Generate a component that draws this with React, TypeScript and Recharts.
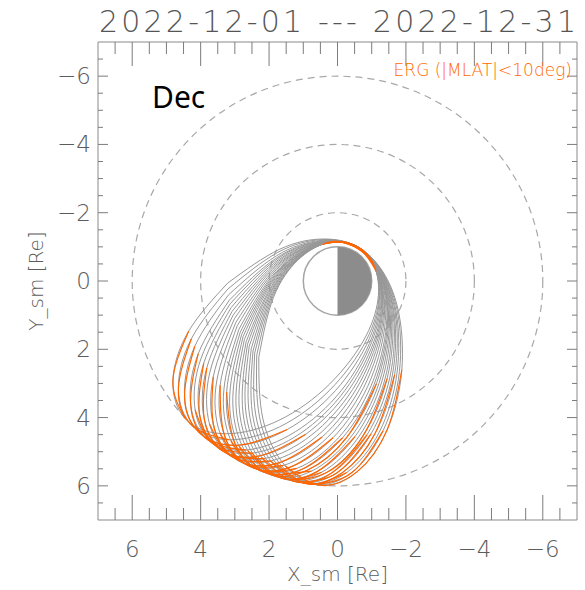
import { LineChart, Line, XAxis, YAxis, ReferenceArea } from "recharts";

// ERG orbit traces in the SM equatorial plane: [X_sm, Y_sm] in Re.
// Each trace starts on the left flank and runs round through apogee and perigee.
const orbit050 = [[2.30, 2.23], [2.18, 4.04], [1.53, 5.41], [0.52, 5.98], [-0.57, 5.59], [-1.45, 4.36], [-1.88, 2.60], [-1.76, 0.79], [-1.24, -0.40], [-0.63, -0.98], [-0.10, -1.15], [0.45, -1.07], [1.16, -0.61], [1.87, 0.48]];
const orbit065 = [[2.36, 2.17], [2.28, 3.98], [1.67, 5.37], [0.68, 5.96], [-0.42, 5.61], [-1.33, 4.39], [-1.81, 2.65], [-1.74, 0.84], [-1.25, -0.36], [-0.66, -0.96], [-0.13, -1.14], [0.43, -1.08], [1.14, -0.64], [1.88, 0.43]];
const orbit080 = [[2.42, 2.11], [2.39, 3.92], [1.81, 5.32], [0.84, 5.94], [-0.27, 5.61], [-1.22, 4.43], [-1.74, 2.69], [-1.71, 0.88], [-1.26, -0.33], [-0.68, -0.94], [-0.16, -1.14], [0.40, -1.09], [1.12, -0.67], [1.89, 0.38]];
const orbit095 = [[2.47, 2.05], [2.49, 3.86], [1.95, 5.27], [0.99, 5.92], [-0.13, 5.62], [-1.10, 4.46], [-1.67, 2.74], [-1.69, 0.93], [-1.27, -0.30], [-0.71, -0.92], [-0.19, -1.13], [0.37, -1.10], [1.11, -0.70], [1.90, 0.33]];
const orbit110 = [[2.52, 1.98], [2.59, 3.79], [2.08, 5.22], [1.15, 5.89], [0.02, 5.62], [-0.98, 4.48], [-1.60, 2.78], [-1.66, 0.97], [-1.28, -0.26], [-0.73, -0.91], [-0.22, -1.13], [0.34, -1.11], [1.09, -0.72], [1.91, 0.28]];
const orbit125 = [[2.58, 1.91], [2.69, 3.72], [2.22, 5.16], [1.30, 5.86], [0.17, 5.62], [-0.86, 4.51], [-1.53, 2.82], [-1.64, 1.02], [-1.29, -0.23], [-0.75, -0.89], [-0.25, -1.12], [0.31, -1.12], [1.07, -0.75], [1.91, 0.23]];
const orbit140 = [[2.63, 1.85], [2.78, 3.65], [2.36, 5.10], [1.45, 5.82], [0.32, 5.61], [-0.75, 4.53], [-1.45, 2.86], [-1.61, 1.06], [-1.29, -0.20], [-0.78, -0.87], [-0.28, -1.12], [0.28, -1.13], [1.05, -0.78], [1.92, 0.18]];
const orbit155 = [[2.67, 1.78], [2.88, 3.57], [2.49, 5.04], [1.60, 5.78], [0.46, 5.60], [-0.63, 4.55], [-1.38, 2.90], [-1.58, 1.10], [-1.30, -0.16], [-0.80, -0.85], [-0.31, -1.11], [0.25, -1.14], [1.03, -0.81], [1.92, 0.13]];
const orbit170 = [[2.72, 1.71], [2.97, 3.50], [2.62, 4.97], [1.75, 5.74], [0.61, 5.59], [-0.51, 4.56], [-1.30, 2.93], [-1.55, 1.14], [-1.30, -0.13], [-0.82, -0.82], [-0.34, -1.10], [0.22, -1.14], [1.01, -0.83], [1.93, 0.08]];
const orbit185 = [[2.76, 1.63], [3.06, 3.42], [2.75, 4.90], [1.90, 5.69], [0.76, 5.57], [-0.39, 4.57], [-1.22, 2.97], [-1.52, 1.18], [-1.30, -0.10], [-0.84, -0.80], [-0.37, -1.09], [0.19, -1.15], [0.98, -0.86], [1.93, 0.03]];
const orbit200 = [[2.80, 1.56], [3.15, 3.34], [2.88, 4.83], [2.05, 5.64], [0.90, 5.55], [-0.27, 4.58], [-1.14, 3.00], [-1.49, 1.22], [-1.30, -0.06], [-0.86, -0.78], [-0.39, -1.08], [0.16, -1.15], [0.96, -0.89], [1.93, -0.02]];
const orbit215 = [[2.84, 1.49], [3.24, 3.25], [3.00, 4.75], [2.20, 5.58], [1.05, 5.52], [-0.15, 4.59], [-1.07, 3.03], [-1.46, 1.26], [-1.31, -0.03], [-0.88, -0.76], [-0.42, -1.07], [0.13, -1.16], [0.94, -0.91], [1.93, -0.07]];
const orbit230 = [[2.88, 1.41], [3.32, 3.17], [3.12, 4.67], [2.34, 5.52], [1.19, 5.49], [-0.03, 4.59], [-0.99, 3.05], [-1.43, 1.30], [-1.31, 0.01], [-0.90, -0.73], [-0.45, -1.06], [0.10, -1.16], [0.91, -0.93], [1.92, -0.13]];
const orbit250 = [[2.93, 1.31], [3.43, 3.05], [3.29, 4.56], [2.54, 5.44], [1.38, 5.45], [0.13, 4.59], [-0.88, 3.09], [-1.38, 1.35], [-1.31, 0.05], [-0.93, -0.70], [-0.49, -1.04], [0.06, -1.16], [0.88, -0.97], [1.92, -0.19]];
const orbit270 = [[2.97, 1.21], [3.53, 2.93], [3.44, 4.44], [2.72, 5.35], [1.57, 5.40], [0.29, 4.58], [-0.77, 3.11], [-1.33, 1.39], [-1.30, 0.10], [-0.95, -0.67], [-0.52, -1.03], [0.02, -1.16], [0.85, -1.00], [1.91, -0.26]];
const orbit290 = [[3.01, 1.10], [3.63, 2.80], [3.60, 4.32], [2.91, 5.25], [1.76, 5.34], [0.45, 4.57], [-0.66, 3.14], [-1.28, 1.44], [-1.30, 0.14], [-0.97, -0.64], [-0.56, -1.01], [-0.02, -1.16], [0.81, -1.02], [1.90, -0.33]];
const orbit310 = [[3.05, 1.00], [3.73, 2.67], [3.74, 4.19], [3.09, 5.14], [1.94, 5.27], [0.61, 4.55], [-0.55, 3.16], [-1.23, 1.48], [-1.29, 0.19], [-1.00, -0.60], [-0.59, -0.99], [-0.06, -1.16], [0.77, -1.05], [1.89, -0.39]];
const orbit330 = [[3.08, 0.89], [3.82, 2.54], [3.89, 4.06], [3.27, 5.03], [2.13, 5.20], [0.77, 4.52], [-0.44, 3.18], [-1.18, 1.53], [-1.29, 0.23], [-1.02, -0.57], [-0.63, -0.97], [-0.10, -1.16], [0.74, -1.08], [1.87, -0.46]];
const orbit350 = [[3.11, 0.78], [3.91, 2.41], [4.03, 3.92], [3.44, 4.92], [2.31, 5.13], [0.93, 4.49], [-0.33, 3.19], [-1.13, 1.57], [-1.28, 0.28], [-1.04, -0.53], [-0.66, -0.94], [-0.14, -1.15], [0.70, -1.10], [1.86, -0.52]];
const orbit370 = [[3.14, 0.67], [3.99, 2.27], [4.16, 3.78], [3.61, 4.79], [2.48, 5.04], [1.08, 4.46], [-0.22, 3.20], [-1.07, 1.60], [-1.27, 0.32], [-1.05, -0.49], [-0.69, -0.92], [-0.19, -1.15], [0.66, -1.13], [1.84, -0.59]];
const orbit390 = [[3.16, 0.56], [4.07, 2.13], [4.29, 3.63], [3.78, 4.66], [2.66, 4.95], [1.24, 4.42], [-0.11, 3.21], [-1.01, 1.64], [-1.25, 0.37], [-1.07, -0.46], [-0.72, -0.89], [-0.22, -1.14], [0.62, -1.15], [1.82, -0.65]];
const orbit420 = [[3.18, 0.40], [4.17, 1.91], [4.47, 3.40], [4.02, 4.46], [2.91, 4.81], [1.47, 4.35], [0.06, 3.21], [-0.93, 1.69], [-1.23, 0.43], [-1.09, -0.40], [-0.77, -0.86], [-0.28, -1.13], [0.56, -1.18], [1.78, -0.74]];
const orbit450 = [[3.20, 0.23], [4.27, 1.69], [4.65, 3.16], [4.24, 4.24], [3.16, 4.65], [1.69, 4.27], [0.23, 3.20], [-0.84, 1.74], [-1.21, 0.50], [-1.11, -0.34], [-0.81, -0.81], [-0.34, -1.11], [0.50, -1.21], [1.74, -0.84]];
const orbit480 = [[3.21, 0.06], [4.35, 1.47], [4.81, 2.91], [4.46, 4.02], [3.40, 4.47], [1.91, 4.17], [0.40, 3.18], [-0.74, 1.78], [-1.18, 0.56], [-1.13, -0.28], [-0.86, -0.77], [-0.40, -1.09], [0.43, -1.23], [1.69, -0.93]];

const orbits = [
  orbit050, orbit065, orbit080, orbit095, orbit110, orbit125, orbit140, orbit155,
  orbit170, orbit185, orbit200, orbit215, orbit230, orbit250, orbit270, orbit290,
  orbit310, orbit330, orbit350, orbit370, orbit390, orbit420, orbit450, orbit480,
];

// point-index spans (inclusive) where |MLAT| < 10 deg
const apogeeSpans = [
  [2, 6], [3, 5], [2, 4], [2, 6], [3, 5], [2, 5], [3, 6], [2, 4],
  [2, 5], [3, 4], [2, 6], [1, 5], [2, 4], [1, 5], [2, 4], [1, 5],
  [2, 4], [1, 4], [1, 5], [2, 4], [1, 4], [1, 5], [1, 4], [1, 3],
];
const perigeeSpans = [
  [9, 11], [9, 10], [9, 11], [9, 11], [9, 10], [9, 11], [9, 11], [9, 10],
  [9, 11], [9, 11], [9, 10], [9, 11], [9, 11], [9, 10], [9, 11], [9, 11],
  [9, 10], [9, 11], [9, 11], [9, 10], [9, 11], [9, 11], [9, 10], [9, 11],
];

const guideRadii = [2, 4, 6];
const earthRadius = 1;

const axisDomain = [-7, 7];
const axisTicks = [-6.5, -6, -5.5, -5, -4.5, -4, -3.5, -3, -2.5, -2, -1.5, -1, -0.5, 0, 0.5, 1, 1.5, 2, 2.5, 3, 3.5, 4, 4.5, 5, 5.5, 6, 6.5];
const labelTicks = [-6, -4, -2, 0, 2, 4, 6];

const GRAY = "#979797";
const ORANGE = "#ff6600";
const TICK = "#7c7c7c";
const thinFont = "'DejaVu Sans', sans-serif";

const toRows = (pts: number[][]) => pts.map(([x, y]) => ({ x, y }));
const fmt = (v: number) => (v < 0 ? `\u2212${-v}` : `${v}`);

function BottomTick({ x, y, payload }: any) {
  const major = labelTicks.includes(payload.value);
  return (
    <g>
      <line x1={x} x2={x} y1={y} y2={y - (major ? 25 : 12)} stroke={TICK} />
      {major && (
        <text x={x} y={y + 37} textAnchor="middle" fontFamily={thinFont} fontWeight={200} fontSize={23} fill="#5c5c5c">
          {fmt(payload.value)}
        </text>
      )}
    </g>
  );
}

function TopTick({ x, y, payload }: any) {
  const major = labelTicks.includes(payload.value);
  return <line x1={x} x2={x} y1={y} y2={y + (major ? 24 : 12)} stroke={TICK} />;
}

function LeftTick({ x, y, payload }: any) {
  const major = labelTicks.includes(payload.value);
  return (
    <g>
      <line x1={x} x2={x + (major ? 10 : 5)} y1={y} y2={y} stroke={TICK} />
      {major && (
        <text x={x - 7} y={y + 8} textAnchor="end" fontFamily={thinFont} fontWeight={200} fontSize={23} fill="#5c5c5c">
          {fmt(payload.value)}
        </text>
      )}
    </g>
  );
}

function RightTick({ x, y, payload }: any) {
  const major = labelTicks.includes(payload.value);
  return <line x1={x} x2={x - (major ? 10 : 5)} y1={y} y2={y} stroke={TICK} />;
}

function GuideCircle(p: any) {
  return (
    <ellipse
      cx={p.x + p.width / 2}
      cy={p.y + p.height / 2}
      rx={Math.abs(p.width) / 2}
      ry={Math.abs(p.height) / 2}
      fill="none"
      stroke="#a8a8a8"
      strokeWidth={1.2}
      strokeDasharray="7 5"
    />
  );
}

function Earth(p: any) {
  const cx = p.x + p.width / 2;
  const cy = p.y + p.height / 2;
  const r = Math.abs(p.width) / 2;
  return (
    <g>
      <circle cx={cx} cy={cy} r={r} fill="#fff" stroke="#a5a5a5" strokeWidth={1.5} />
      <path d={`M${cx},${cy - r} A${r},${r} 0 0 1 ${cx},${cy + r} Z`} fill="#8c8c8c" />
    </g>
  );
}

export default function App() {
  return (
    <div style={{ position: "absolute", left: 0, top: 0, width: 585, height: 590, background: "#fff" }}>
      <LineChart width={585} height={590} margin={{ top: 0, right: 0, bottom: 0, left: 0 }}>
        <XAxis
          xAxisId="b"
          type="number"
          dataKey="x"
          domain={axisDomain}
          allowDataOverflow
          reversed
          ticks={axisTicks}
          interval={0}
          tickSize={0}
          tickMargin={0}
          tickLine={false}
          tick={(p: any) => <BottomTick {...p} />}
          height={70}
          stroke="#8a8a8a"
        />
        <XAxis
          xAxisId="t"
          orientation="top"
          type="number"
          dataKey="x"
          domain={axisDomain}
          allowDataOverflow
          reversed
          ticks={axisTicks}
          interval={0}
          tickSize={0}
          tickMargin={0}
          tickLine={false}
          tick={(p: any) => <TopTick {...p} />}
          height={42}
          stroke="#8a8a8a"
        />
        <YAxis
          yAxisId="l"
          type="number"
          domain={axisDomain}
          allowDataOverflow
          reversed
          ticks={axisTicks}
          interval={0}
          tickSize={0}
          tickMargin={0}
          tickLine={false}
          tick={(p: any) => <LeftTick {...p} />}
          width={98}
          stroke="#8a8a8a"
        />
        <YAxis
          yAxisId="r"
          orientation="right"
          type="number"
          domain={axisDomain}
          allowDataOverflow
          reversed
          ticks={axisTicks}
          interval={0}
          tickSize={0}
          tickMargin={0}
          tickLine={false}
          tick={(p: any) => <RightTick {...p} />}
          width={8}
          stroke="#8a8a8a"
        />

        {guideRadii.map((r) => (
          <ReferenceArea key={`g${r}`} xAxisId="b" yAxisId="l" x1={-r} x2={r} y1={-r} y2={r} shape={GuideCircle} />
        ))}

        {orbits.map((pts, i) => (
          <Line
            key={`o${i}`}
            xAxisId="b"
            yAxisId="l"
            data={toRows([...pts, pts[0]])}
            dataKey="y"
            type="natural"
            stroke={GRAY}
            strokeWidth={1}
            dot={false}
            activeDot={false}
            isAnimationActive={false}
          />
        ))}
        {orbits.map((pts, i) => (
          <Line
            key={`a${i}`}
            xAxisId="b"
            yAxisId="l"
            data={toRows(pts.slice(apogeeSpans[i][0], apogeeSpans[i][1] + 1))}
            dataKey="y"
            type="natural"
            stroke={ORANGE}
            strokeWidth={1.2}
            dot={false}
            activeDot={false}
            isAnimationActive={false}
          />
        ))}
        {orbits.map((pts, i) => (
          <Line
            key={`p${i}`}
            xAxisId="b"
            yAxisId="l"
            data={toRows(pts.slice(perigeeSpans[i][0], perigeeSpans[i][1] + 1))}
            dataKey="y"
            type="natural"
            stroke={ORANGE}
            strokeWidth={1.2}
            dot={false}
            activeDot={false}
            isAnimationActive={false}
          />
        ))}

        <ReferenceArea
          xAxisId="b"
          yAxisId="l"
          x1={-earthRadius}
          x2={earthRadius}
          y1={-earthRadius}
          y2={earthRadius}
          shape={Earth}
        />
      </LineChart>

      <svg width={585} height={590} style={{ position: "absolute", left: 0, top: 0, pointerEvents: "none" }}>
        <text x={337.5} y={32} textAnchor="middle" fontFamily={thinFont} fontWeight={200} fontSize={30} fill="#555" textLength={477} lengthAdjust="spacing">
          2022-12-01 --- 2022-12-31
        </text>
        <text x={152} y={108} fontFamily="'Noto Sans', sans-serif" fontSize={30} fill="#000">
          Dec
        </text>
        <text x={572} y={76} textAnchor="end" fontFamily={thinFont} fontWeight={200} fontSize={17} fill="#ff6a00">
          ERG (|MLAT|&lt;10deg)
        </text>
        <text x={337.5} y={581} textAnchor="middle" fontFamily={thinFont} fontWeight={200} fontSize={20} fill="#5c5c5c">
          X_sm [Re]
        </text>
        <text transform="translate(43,281) rotate(-90)" textAnchor="middle" fontFamily={thinFont} fontWeight={200} fontSize={20} fill="#5c5c5c">
          Y_sm [Re]
        </text>
      </svg>
    </div>
  );
}
